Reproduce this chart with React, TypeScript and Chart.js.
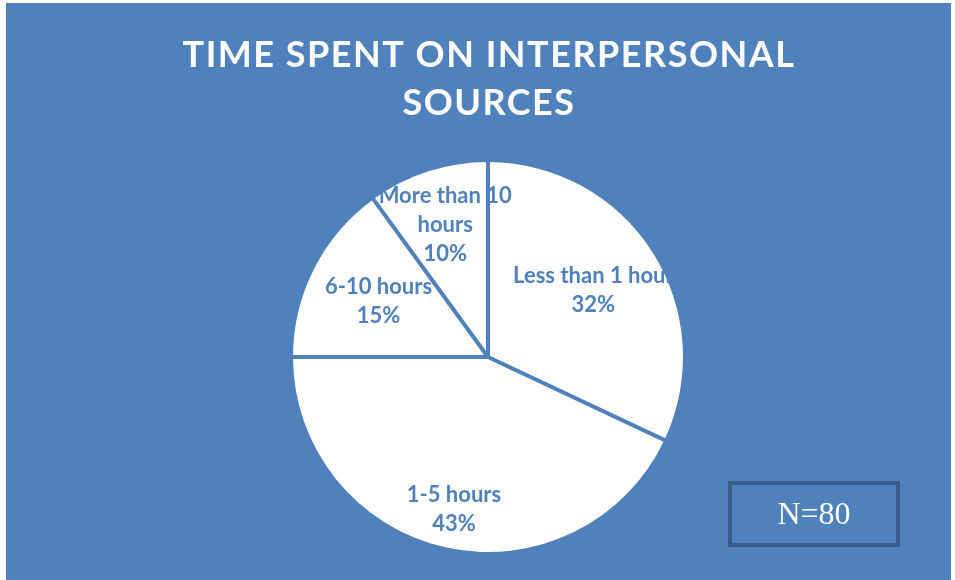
import React, { useEffect, useRef } from "react";
import { Chart, registerables } from "chart.js";

Chart.register(...registerables);

const categories = ["Less than 1 hour", "1-5 hours", "6-10 hours", "More than 10 hours"];
const labelLines = [["Less than 1 hour"], ["1-5 hours"], ["6-10 hours"], ["More than 10", "hours"]];
const shares = [32, 43, 15, 10];
const titleLines = ["TIME SPENT ON INTERPERSONAL", "SOURCES"];
const noteText = "N=80";

const BLUE = "#4F81BD";
const DARK = "#385D8A";
const labelRadius = [0.64, 0.8, 0.63, 0.71];

const decor = {
  id: "decor",
  beforeDraw(chart: any) {
    const ctx = chart.ctx;
    ctx.save();
    ctx.fillStyle = "#ffffff";
    ctx.fillRect(0, 0, chart.width, chart.height);
    ctx.fillStyle = BLUE;
    ctx.fillRect(6, 3, 945, 577);
    ctx.restore();
  },
  afterDatasetsDraw(chart: any) {
    const ctx = chart.ctx;
    const meta = chart.getDatasetMeta(0);
    ctx.save();
    // labels
    ctx.font = "bold 22px Lato";
    ctx.fillStyle = BLUE;
    ctx.textAlign = "center";
    ctx.textBaseline = "middle";
    const lh = 29;
    meta.data.forEach((el: any, i: number) => {
      const p = el.getProps(["x", "y", "startAngle", "endAngle", "outerRadius"], true);
      const mid = (p.startAngle + p.endAngle) / 2;
      const r = p.outerRadius * labelRadius[i];
      const cx = p.x + r * Math.cos(mid);
      const cy = p.y + r * Math.sin(mid);
      const lines = [...labelLines[i], `${shares[i]}%`];
      const top = cy - ((lines.length - 1) * lh) / 2;
      lines.forEach((t, k) => ctx.fillText(t, cx, top + k * lh));
    });
    // radial separators
    ctx.strokeStyle = BLUE;
    ctx.lineWidth = 4;
    meta.data.forEach((el: any) => {
      const p = el.getProps(["x", "y", "startAngle", "outerRadius"], true);
      ctx.beginPath();
      ctx.moveTo(p.x, p.y);
      ctx.lineTo(p.x + (p.outerRadius + 2) * Math.cos(p.startAngle), p.y + (p.outerRadius + 2) * Math.sin(p.startAngle));
      ctx.stroke();
    });
    // title
    ctx.fillStyle = "#ffffff";
    ctx.font = "bold 36px Lato";
    (ctx as any).letterSpacing = "1.5px";
    ctx.fillText(titleLines[0], 489, 55);
    ctx.fillText(titleLines[1], 489, 103);
    (ctx as any).letterSpacing = "0px";
    // N box
    ctx.strokeStyle = DARK;
    ctx.lineWidth = 4;
    ctx.strokeRect(730, 483, 168, 62);
    ctx.fillStyle = "#ffffff";
    ctx.font = "32px 'Liberation Serif'";
    ctx.fillText(noteText, 814, 516);
    ctx.restore();
  },
};

export default function App() {
  const ref = useRef<HTMLCanvasElement>(null);
  useEffect(() => {
    const chart = new Chart(ref.current!, {
      type: "pie",
      data: {
        labels: categories,
        datasets: [
          {
            data: shares,
            backgroundColor: "#ffffff",
            borderWidth: 0,
          },
        ],
      },
      options: {
        animation: false,
        responsive: false,
        devicePixelRatio: 1,
        layout: { padding: { left: 293, right: 272, top: 162, bottom: 28 } },
        plugins: {
          legend: { display: false },
          title: { display: false },
          tooltip: { enabled: false },
        },
      },
      plugins: [decor],
    });
    return () => chart.destroy();
  }, []);
  return (
    <div style={{ position: "absolute", left: 0, top: 0, width: 955, height: 580 }}>
      <canvas ref={ref} width={955} height={580} />
    </div>
  );
}
